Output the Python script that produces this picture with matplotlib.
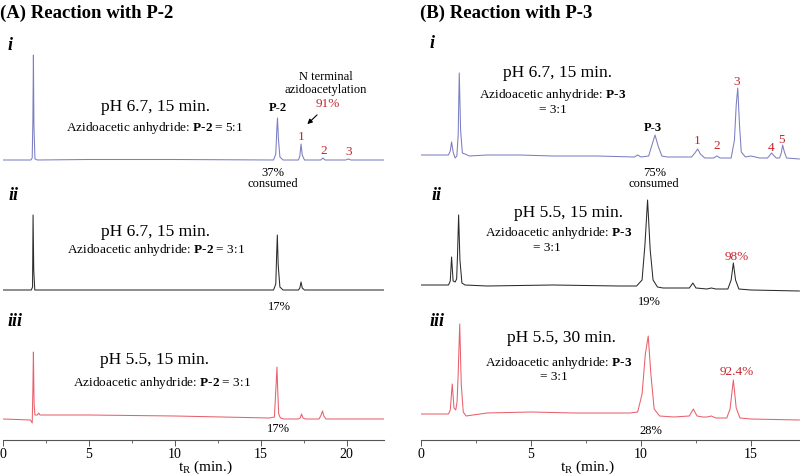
import matplotlib
matplotlib.use("Agg")
import matplotlib.pyplot as plt
from matplotlib.ticker import MultipleLocator

plt.rcParams["font.family"] = "Liberation Serif"
plt.rcParams["mathtext.fontset"] = "custom"
plt.rcParams["mathtext.rm"] = "Liberation Serif"
plt.rcParams["mathtext.bf"] = "Liberation Serif:bold"
plt.rcParams["mathtext.it"] = "Liberation Serif:italic"

BLUE = "#7a7ec2"
BLACK = "#2b2b2b"
RED = "#e8606c"
LABEL_RED = "#c8242c"

# ---- Panel A: reaction with P-2 (retention time in min, signal in a.u.) ----
a1_rt = [0, 1.62, 1.70, 1.74, 1.77, 1.80, 1.86, 2.0, 5, 10, 15.75, 15.88, 15.94, 15.98,
         16.03, 16.12, 16.3, 17.2, 17.28, 17.35, 17.42, 17.55, 18.5, 18.62, 18.75,
         19.95, 20.1, 20.25, 22.2]
a1_sig = [0, 0, 2, 40, 105, 35, 1, 0, 0.5, 0.5, 0, 6, 30, 42, 22, 3, 0, 0, 4, 16, 5, 0,
          0, 2, 0, 0, 1, 0, 0]

a2_rt = [0, 1.65, 1.72, 1.75, 1.79, 1.85, 2.0, 10, 15.75, 15.88, 15.93, 15.97, 16.02,
         16.12, 16.3, 17.2, 17.28, 17.35, 17.42, 17.55, 22.2]
a2_sig = [0, 0, 3, 75, 20, 0, 0, 0, 0, 6, 35, 55, 25, 3, 0, 0, 2, 8, 2, 0, 0]

a3_rt = [0, 1.6, 1.70, 1.74, 1.77, 1.81, 1.86, 2.0, 2.08, 2.15, 5, 10, 15.5, 15.8, 15.9,
         15.95, 15.99, 16.05, 16.15, 16.35, 17.2, 17.3, 17.38, 17.46, 17.6, 18.4, 18.52,
         18.6, 18.68, 18.8, 22.2]
a3_sig = [0, -1, -4, 30, 67, 15, 4, 4, 6, 4, 4, 3, 1, 2, 35, 52, 30, 5, 1, 0, 0, 1, 5, 1,
          0, 0, 4, 8, 3, 0, 0]

# ---- Panel B: reaction with P-3 ----
b1_rt = [0, 1.25, 1.33, 1.39, 1.46, 1.55, 1.63, 1.69, 1.74, 1.80, 1.88, 2.0, 2.2, 3,
         4.5, 6, 8, 9.7, 9.85, 10.0, 10.35, 10.5, 10.64, 10.78, 10.95, 11.2, 12.3,
         12.45, 12.58, 12.7, 12.9, 13.3, 13.45, 13.6, 14.1, 14.25, 14.33, 14.4, 14.48,
         14.56, 14.75, 15.0, 15.2, 15.4, 15.75, 15.87, 15.94, 16.02, 16.15, 16.3,
         16.38, 16.44, 16.52, 16.62, 17.2]
b1_sig = [0, 0, 4, 13, 3, -3, -1, 20, 82, 25, 2, 1, -1, 0, 0, -1, -1, -2, 0, -2, -1, 10,
          20, 9, -1, -2, -2, 2, 6, 1, -3, -3, -1, -3, -3, 15, 50, 67, 30, 3, -2, -1, -2,
          -3, -3, 0, 2, 0, -3, -3, 2, 10, 3, -3, -4]

b2_rt = [0, 1.25, 1.33, 1.39, 1.46, 1.55, 1.62, 1.66, 1.71, 1.77, 1.86, 2.0, 3, 6, 9,
         9.8, 10.05, 10.18, 10.3, 10.42, 10.55, 10.75, 11.0, 12.2, 12.36, 12.5, 13.0,
         13.2, 13.4, 13.95, 14.1, 14.2, 14.3, 14.45, 15, 17.2]
b2_sig = [0, 0, 4, 28, 4, 3, 6, 30, 70, 25, 2, 0, -1, 0, -1, -1, 5, 40, 85, 35, 5, -2,
          -3, -3, 2, -3, -4, -3, -4, -4, 5, 22, 5, -4, -5, -6]

b3_rt = [0, 1.25, 1.33, 1.42, 1.5, 1.58, 1.64, 1.69, 1.76, 1.83, 1.92, 2.05, 3, 5, 7,
         9.5, 9.85, 10.05, 10.2, 10.33, 10.45, 10.6, 10.85, 11.5, 12.2, 12.38, 12.55,
         12.8, 13.0, 13.2, 13.4, 13.9, 14.05, 14.2, 14.33, 14.5, 15, 17.2]
b3_sig = [0, 0, 4, 30, 6, 4, 12, 40, 90, 30, 2, -2, 1, 2, 1, 1, 2, 20, 60, 78, 40, 5,
          -2, -3, -2, 5, -2, -3, -3, -2, -4, -4, 5, 34, 6, -4, -5, -6]

# vertical offsets of the stacked traces i, ii, iii
a_offsets = [280, 150, 21]
b_offsets = [285, 155, 26]


def setup_axis(ax, xmax, major, label_x):
    ax.set_xlim(0, xmax)
    ax.set_ylim(0, 400)
    for side in ["left", "right", "top"]:
        ax.spines[side].set_visible(False)
    ax.spines["bottom"].set_color("#555555")
    ax.spines["bottom"].set_linewidth(0.8)
    ax.set_yticks([])
    ax.xaxis.set_major_locator(MultipleLocator(major))
    ax.xaxis.set_minor_locator(MultipleLocator(major / 2))
    ax.tick_params(axis="x", which="major", length=4, width=0.7, color="#555555",
                   labelsize=10, pad=1.5)
    ax.tick_params(axis="x", which="minor", length=2.5, width=0.6, color="#555555")
    ax.set_xlabel(r"$\mathregular{t_R}$ (min.)", fontsize=11)
    ax.xaxis.set_label_coords(label_x, -0.046)
    ax.patch.set_alpha(0)


def stack(ax, traces, offsets, colors):
    for (rt, sig), off, c in zip(traces, offsets, colors):
        ax.plot(rt, [s + off for s in sig], color=c, lw=0.75)


fig = plt.figure(figsize=(8, 4.75), dpi=100)
axA = fig.add_axes([3 / 800, 35 / 475, 381 / 800, 400 / 475])
axB = fig.add_axes([421 / 800, 35 / 475, 379 / 800, 400 / 475])
setup_axis(axA, 22.18, 5, 0.53)
setup_axis(axB, 17.23, 5, 0.44)

stack(axA, [(a1_rt, a1_sig), (a2_rt, a2_sig), (a3_rt, a3_sig)], a_offsets,
      [BLUE, BLACK, RED])
stack(axB, [(b1_rt, b1_sig), (b2_rt, b2_sig), (b3_rt, b3_sig)], b_offsets,
      [BLUE, BLACK, RED])

fig.text(0.0, 1 - 13 / 475, "(A) Reaction with P-2", fontsize=13.5, fontweight="bold",
         va="center", ha="left")
fig.text(420 / 800, 1 - 13 / 475, "(B) Reaction with P-3", fontsize=13.5,
         fontweight="bold", va="center", ha="left")

roman = dict(fontsize=13, style="italic", fontweight="bold", ha="center", va="center")
small = dict(fontsize=9, ha="center", va="center")
red = dict(fontsize=9.5, ha="center", va="center", color=LABEL_RED)
big = dict(fontsize=12.5, ha="center", va="center")
mid = dict(fontsize=9.5, ha="center", va="center")

# ---- Panel A annotations ----
axA.text(0.4, 395, "i", **roman)
axA.text(0.6, 244, "ii", **roman)
axA.text(0.7, 119, "iii", **roman)

axA.text(8.85, 333, "pH 6.7, 15 min.", **big)
axA.text(8.8, 312, r"Azidoacetic anhydride: $\mathbf{P}$-$\mathbf{2}$ = 5:1", **mid)
axA.text(16.0, 332, "P-2", fontsize=9, fontweight="bold", ha="center", va="center")
axA.text(18.8, 363, "N terminal", **small)
axA.text(18.8, 350, "azidoacetylation", **small)
axA.text(18.9, 336, "91%", **red)
axA.annotate("", xy=(17.6, 314), xytext=(18.4, 327),
             arrowprops=dict(arrowstyle="-|>", color="black", lw=0.8, mutation_scale=7))
axA.text(17.35, 303, "1", **red)
axA.text(18.7, 289, "2", **red)
axA.text(20.1, 288, "3", **red)
axA.text(15.7, 267, "37%", **small)
axA.text(15.7, 256, "consumed", **small)

axA.text(8.85, 208, "pH 6.7, 15 min.", **big)
axA.text(8.9, 190, r"Azidoacetic anhydride: $\mathbf{P}$-$\mathbf{2}$ = 3:1", **mid)
axA.text(16.1, 133, "17%", **small)

axA.text(8.8, 80, "pH 5.5, 15 min.", **big)
axA.text(9.25, 57, r"Azidoacetic anhydride: $\mathbf{P}$-$\mathbf{2}$ = 3:1", **mid)
axA.text(16.05, 11, "17%", **small)

# ---- Panel B annotations ----
axB.text(0.5, 396, "i", **roman)
axB.text(0.7, 245, "ii", **roman)
axB.text(0.75, 119, "iii", **roman)

axB.text(6.2, 367, "pH 6.7, 15 min.", **big)
axB.text(6.0, 345, r"Azidoacetic anhydride: $\mathbf{P}$-$\mathbf{3}$", **mid)
axB.text(6.0, 330, "= 3:1", **mid)
axB.text(10.55, 312, "P-3", fontsize=9, fontweight="bold", ha="center", va="center")
axB.text(12.55, 299, "1", **red)
axB.text(13.45, 294, "2", **red)
axB.text(14.35, 358, "3", **red)
axB.text(15.9, 292, "4", **red)
axB.text(16.4, 300, "5", **red)
axB.text(10.6, 267, "75%", **small)
axB.text(10.6, 256, "consumed", **small)

axB.text(6.7, 227, "pH 5.5, 15 min.", **big)
axB.text(6.25, 207, r"Azidoacetic anhydride: $\mathbf{P}$-$\mathbf{3}$", **mid)
axB.text(5.7, 192, "= 3:1", **mid)
axB.text(14.35, 183, "98%", **red)
axB.text(10.4, 138, "19%", **small)

axB.text(6.4, 102, "pH 5.5, 30 min.", **big)
axB.text(6.25, 77, r"Azidoacetic anhydride: $\mathbf{P}$-$\mathbf{3}$", **mid)
axB.text(6.05, 63, "= 3:1", **mid)
axB.text(14.35, 68, "92.4%", **red)
axB.text(10.45, 9, "28%", **small)

fig.savefig("out.png", dpi=100)
